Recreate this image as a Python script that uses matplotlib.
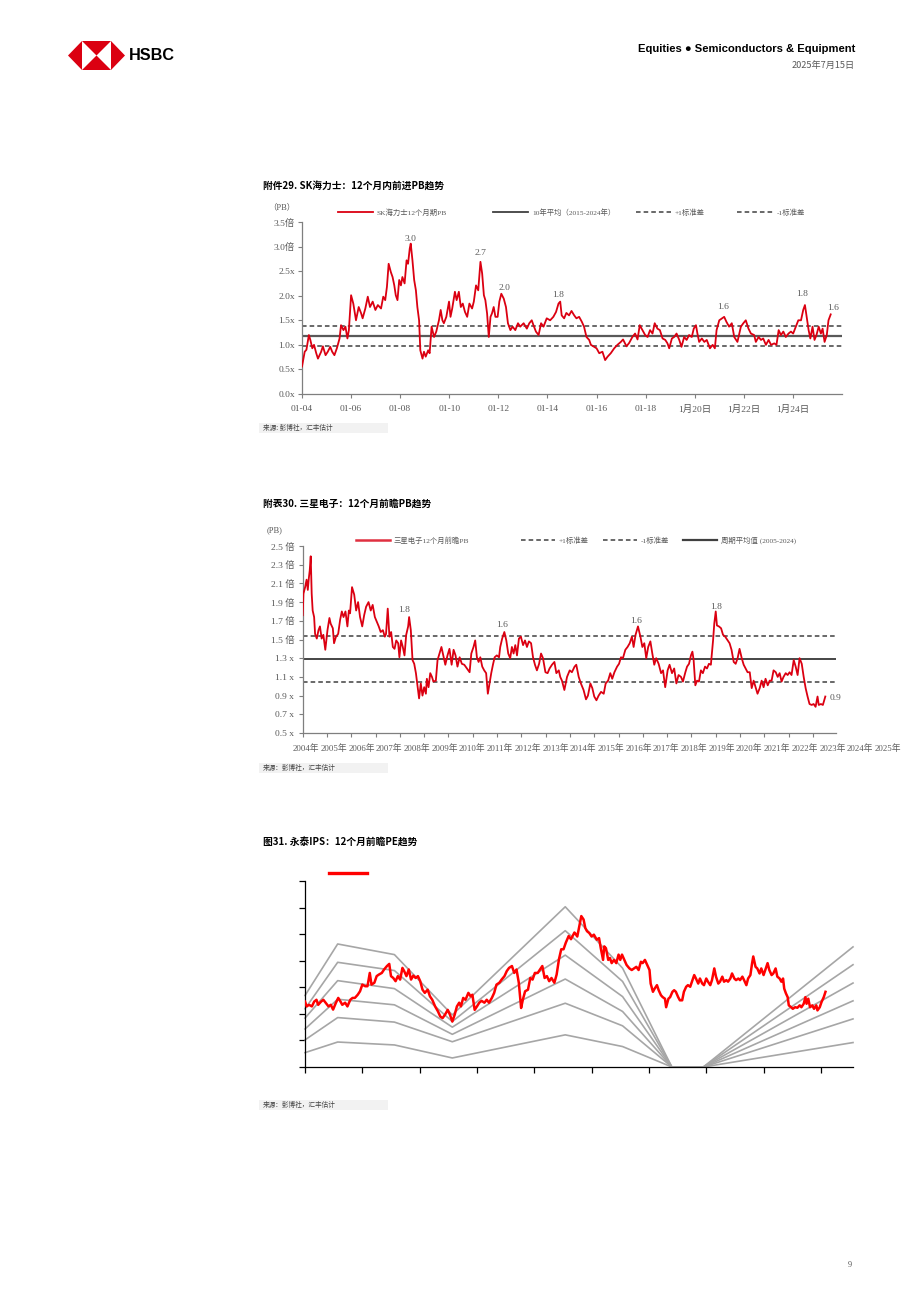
import matplotlib.pyplot as plt
from matplotlib.patches import Polygon, Rectangle
from matplotlib.lines import Line2D

# ---------------- data ----------------
# SK hynix 12m forward PB (decimal years)
sk_dates = [2004.00, 2004.11, 2004.18, 2004.28, 2004.34, 2004.42, 2004.49, 2004.58, 2004.65, 2004.78,
            2004.85, 2004.96, 2005.05, 2005.15, 2005.23, 2005.32, 2005.42, 2005.53, 2005.59, 2005.69,
            2005.77, 2005.85, 2005.91, 2006.00, 2006.09, 2006.20, 2006.31, 2006.41, 2006.47, 2006.58,
            2006.68, 2006.77, 2006.88, 2006.99, 2007.09, 2007.22, 2007.31, 2007.39, 2007.46, 2007.53,
            2007.62, 2007.69, 2007.76, 2007.82, 2007.89, 2007.96, 2008.03, 2008.09, 2008.18, 2008.26,
            2008.32, 2008.39, 2008.43, 2008.50, 2008.57, 2008.64, 2008.70, 2008.77, 2008.82, 2008.91,
            2008.97, 2009.04, 2009.14, 2009.20, 2009.28, 2009.38, 2009.47, 2009.58, 2009.65, 2009.72,
            2009.78, 2009.88, 2009.99, 2010.05, 2010.12, 2010.23, 2010.30, 2010.39, 2010.47, 2010.55,
            2010.64, 2010.73, 2010.82, 2010.93, 2011.00, 2011.09, 2011.18, 2011.27, 2011.34, 2011.41,
            2011.47, 2011.54, 2011.61, 2011.68, 2011.74, 2011.81, 2011.88, 2011.97, 2012.04, 2012.12,
            2012.22, 2012.31, 2012.39, 2012.49, 2012.58, 2012.69, 2012.80, 2012.89, 2013.03, 2013.16,
            2013.26, 2013.36, 2013.43, 2013.53, 2013.64, 2013.74, 2013.84, 2013.97, 2014.11, 2014.24,
            2014.35, 2014.45, 2014.52, 2014.58, 2014.68, 2014.77, 2014.88, 2014.98, 2015.09, 2015.18,
            2015.29, 2015.40, 2015.49, 2015.59, 2015.70, 2015.77, 2015.90, 2016.00, 2016.11, 2016.24,
            2016.35, 2016.45, 2016.58, 2016.72, 2016.85, 2016.99, 2017.08, 2017.22, 2017.33, 2017.46,
            2017.57, 2017.67, 2017.76, 2017.87, 2017.98, 2018.08, 2018.18, 2018.28, 2018.37, 2018.48,
            2018.58, 2018.69, 2018.80, 2018.89, 2018.96, 2019.07, 2019.16, 2019.26, 2019.37, 2019.46,
            2019.57, 2019.67, 2019.77, 2019.88, 2019.96, 2020.05, 2020.11, 2020.18, 2020.29, 2020.39,
            2020.49, 2020.62, 2020.73, 2020.82, 2020.89, 2021.00, 2021.11, 2021.20, 2021.29, 2021.40,
            2021.51, 2021.61, 2021.74, 2021.88, 2021.98, 2022.08, 2022.19, 2022.29, 2022.42, 2022.49,
            2022.60, 2022.70, 2022.79, 2022.90, 2023.01, 2023.11, 2023.24, 2023.33, 2023.42, 2023.51,
            2023.61, 2023.71, 2023.82, 2023.92, 2024.01, 2024.12, 2024.22, 2024.33, 2024.42, 2024.49,
            2024.56, 2024.64, 2024.71, 2024.80, 2024.88, 2024.96, 2025.05, 2025.14, 2025.21, 2025.29,
            2025.38, 2025.45, 2025.54]
sk_pb = [0.56, 0.86, 0.90, 1.20, 1.10, 0.93, 1.00, 0.83, 0.72, 0.86,
         0.97, 0.79, 0.86, 0.96, 0.86, 0.79, 0.93, 1.13, 1.40, 1.30,
         1.37, 1.13, 1.30, 2.01, 1.84, 1.50, 1.77, 1.64, 1.54, 1.74,
         1.98, 1.77, 1.88, 1.71, 1.81, 1.74, 1.98, 1.91, 2.18, 2.65,
         2.48, 2.38, 2.21, 2.01, 1.91, 2.32, 2.21, 2.38, 2.25, 2.72,
         2.65, 2.96, 3.06, 2.72, 2.32, 2.11, 1.77, 1.50, 0.89, 0.72,
         0.86, 0.76, 0.89, 0.83, 1.37, 1.16, 1.27, 1.50, 1.71, 1.50,
         1.44, 1.57, 1.88, 1.57, 1.74, 2.08, 1.91, 2.08, 1.77, 1.84,
         1.67, 1.57, 1.84, 1.74, 1.88, 2.21, 2.11, 2.69, 2.45, 2.01,
         1.91, 1.64, 1.16, 1.57, 1.64, 1.77, 1.57, 1.57, 1.88, 2.04,
         1.94, 1.77, 1.44, 1.30, 1.37, 1.30, 1.44, 1.37, 1.44, 1.33,
         1.44, 1.50, 1.40, 1.27, 1.20, 1.44, 1.37, 1.54, 1.50, 1.57,
         1.67, 1.84, 1.88, 1.60, 1.54, 1.65, 1.60, 1.69, 1.60, 1.54,
         1.57, 1.47, 1.37, 1.16, 1.10, 1.00, 0.96, 0.93, 0.83, 0.86,
         0.69, 0.76, 0.83, 0.93, 1.00, 1.06, 1.11, 0.97, 1.04, 1.16,
         1.23, 1.11, 1.40, 1.30, 1.20, 1.16, 1.30, 1.23, 1.44, 1.33,
         1.30, 1.13, 1.10, 1.03, 0.93, 1.13, 1.16, 1.23, 1.10, 0.96,
         1.16, 1.10, 1.20, 1.16, 1.33, 1.40, 1.23, 1.06, 1.13, 1.06,
         1.10, 0.93, 1.00, 0.93, 1.30, 1.50, 1.54, 1.57, 1.47, 1.37,
         1.44, 1.16, 1.06, 1.37, 1.44, 1.50, 1.33, 1.23, 1.20, 1.06,
         1.16, 1.10, 1.13, 1.00, 1.10, 1.00, 1.03, 1.00, 1.30, 1.20,
         1.27, 1.16, 1.23, 1.27, 1.23, 1.37, 1.50, 1.50, 1.71, 1.81,
         1.57, 1.30, 1.13, 1.37, 1.10, 1.20, 1.37, 1.23, 1.33, 1.06,
         1.20, 1.50, 1.62]
sk_mean, sk_plus, sk_minus = 1.18, 1.39, 0.97
sk_yticks = [0.0, 0.5, 1.0, 1.5, 2.0, 2.5, 3.0, 3.5]
sk_ylabels = ['0.0x', '0.5x', '1.0x', '1.5x', '2.0x', '2.5x', '3.0倍', '3.5倍']
sk_xticks = [2004, 2006, 2008, 2010, 2012, 2014, 2016, 2018, 2020, 2022, 2024]
sk_xlabels = ['01-04', '01-06', '01-08', '01-10', '01-12', '01-14', '01-16', '01-18',
              '1月20日', '1月22日', '1月24日']
sk_notes = ['3.0', '2.7', '2.0', '1.8', '1.6', '1.8', '1.6']
sk_note_x = [2008.40, 2011.29, 2012.23, 2014.43, 2021.15, 2024.37, 2025.63]
sk_note_y = [3.15, 2.87, 2.16, 2.01, 1.77, 2.03, 1.75]
sk_legend = ['SK海力士12个月期PB', '10年平均（2015-2024年）', '+1标准差', '-1标准差']

# Samsung Electronics 12m forward PB
sam_dates = [2004.00, 2004.03, 2004.10, 2004.16, 2004.21, 2004.25, 2004.29, 2004.33, 2004.37, 2004.41,
             2004.47, 2004.51, 2004.58, 2004.65, 2004.71, 2004.78, 2004.85, 2004.93, 2005.02, 2005.10,
             2005.15, 2005.24, 2005.29, 2005.37, 2005.46, 2005.54, 2005.61, 2005.68, 2005.76, 2005.84,
             2005.90, 2005.95, 2006.03, 2006.12, 2006.20, 2006.28, 2006.36, 2006.45, 2006.53, 2006.61,
             2006.71, 2006.80, 2006.88, 2006.97, 2007.05, 2007.13, 2007.21, 2007.30, 2007.38, 2007.43,
             2007.50, 2007.57, 2007.64, 2007.71, 2007.78, 2007.85, 2007.93, 2007.98, 2008.05, 2008.12,
             2008.19, 2008.26, 2008.34, 2008.38, 2008.45, 2008.52, 2008.59, 2008.66, 2008.73, 2008.79,
             2008.86, 2008.93, 2009.00, 2009.07, 2009.11, 2009.18, 2009.25, 2009.32, 2009.38, 2009.48,
             2009.55, 2009.63, 2009.71, 2009.80, 2009.87, 2009.96, 2010.04, 2010.13, 2010.21, 2010.29,
             2010.37, 2010.46, 2010.55, 2010.65, 2010.76, 2010.87, 2010.94, 2011.03, 2011.10, 2011.17,
             2011.24, 2011.31, 2011.39, 2011.47, 2011.55, 2011.62, 2011.69, 2011.76, 2011.83, 2011.90,
             2011.99, 2012.08, 2012.13, 2012.21, 2012.30, 2012.38, 2012.46, 2012.54, 2012.61, 2012.68,
             2012.75, 2012.82, 2012.90, 2012.98, 2013.07, 2013.15, 2013.23, 2013.31, 2013.40, 2013.48,
             2013.56, 2013.64, 2013.73, 2013.81, 2013.89, 2013.99, 2014.08, 2014.16, 2014.26, 2014.36,
             2014.44, 2014.54, 2014.60, 2014.67, 2014.77, 2014.88, 2014.99, 2015.08, 2015.19, 2015.26,
             2015.36, 2015.45, 2015.56, 2015.66, 2015.74, 2015.84, 2015.92, 2016.00, 2016.09, 2016.18,
             2016.28, 2016.39, 2016.47, 2016.57, 2016.66, 2016.74, 2016.83, 2016.94, 2017.02, 2017.10,
             2017.18, 2017.28, 2017.37, 2017.46, 2017.55, 2017.62, 2017.70, 2017.80, 2017.90, 2017.98,
             2018.06, 2018.14, 2018.22, 2018.31, 2018.39, 2018.47, 2018.55, 2018.65, 2018.75, 2018.83,
             2018.92, 2019.02, 2019.10, 2019.20, 2019.29, 2019.38, 2019.47, 2019.57, 2019.65, 2019.75,
             2019.82, 2019.90, 2019.98, 2020.04, 2020.09, 2020.16, 2020.23, 2020.31, 2020.39, 2020.47,
             2020.56, 2020.64, 2020.72, 2020.80, 2020.89, 2020.94, 2021.00, 2021.05, 2021.13, 2021.22,
             2021.30, 2021.39, 2021.49, 2021.57, 2021.65, 2021.74, 2021.82, 2021.90, 2021.98, 2022.07,
             2022.15, 2022.23, 2022.31, 2022.40, 2022.48, 2022.56, 2022.64, 2022.72, 2022.81, 2022.89,
             2022.97, 2023.05, 2023.14, 2023.22, 2023.30, 2023.38, 2023.47, 2023.55, 2023.63, 2023.71,
             2023.79, 2023.88, 2023.96, 2024.04, 2024.12, 2024.21, 2024.29, 2024.37, 2024.45, 2024.54,
             2024.62, 2024.70, 2024.78, 2024.86, 2024.95, 2025.03, 2025.11, 2025.19, 2025.24, 2025.33,
             2025.41, 2025.51]
sam_pb = [1.76, 1.99, 2.06, 2.14, 2.03, 2.15, 2.24, 2.39, 1.99, 1.81,
          1.74, 1.56, 1.51, 1.60, 1.64, 1.51, 1.55, 1.39, 1.60, 1.73,
          1.67, 1.62, 1.46, 1.53, 1.56, 1.71, 1.80, 1.74, 1.80, 1.64,
          1.81, 1.78, 2.06, 1.98, 1.81, 1.90, 1.74, 1.64, 1.76, 1.85,
          1.90, 1.81, 1.87, 1.74, 1.69, 1.64, 1.58, 1.60, 1.53, 1.56,
          1.83, 1.53, 1.58, 1.42, 1.40, 1.49, 1.46, 1.31, 1.49, 1.42,
          1.33, 1.55, 1.64, 1.74, 1.60, 1.28, 1.24, 1.14, 0.99, 0.87,
          1.03, 0.90, 0.99, 0.92, 1.08, 0.99, 1.14, 1.10, 1.05, 1.06,
          1.28, 1.35, 1.42, 1.31, 1.23, 1.33, 1.40, 1.23, 1.39, 1.33,
          1.21, 1.31, 1.24, 1.23, 1.19, 1.15, 1.35, 1.42, 1.49, 1.31,
          1.26, 1.31, 1.21, 1.17, 1.14, 0.92, 1.03, 1.14, 1.23, 1.31,
          1.33, 1.31, 1.42, 1.51, 1.58, 1.49, 1.35, 1.30, 1.42, 1.35,
          1.44, 1.33, 1.51, 1.53, 1.44, 1.49, 1.42, 1.48, 1.46, 1.31,
          1.23, 1.17, 1.24, 1.35, 1.30, 1.15, 1.14, 1.19, 1.23, 1.26,
          1.14, 1.17, 1.10, 1.06, 0.96, 1.10, 1.17, 1.15, 1.21, 1.23,
          1.10, 1.03, 0.96, 0.86, 0.90, 1.03, 0.98, 0.89, 0.85, 0.90,
          0.94, 0.92, 1.03, 1.06, 1.14, 1.08, 1.15, 1.21, 1.24, 1.31,
          1.30, 1.39, 1.42, 1.46, 1.53, 1.42, 1.55, 1.64, 1.53, 1.42,
          1.46, 1.30, 1.42, 1.48, 1.35, 1.23, 1.30, 1.24, 1.14, 1.17,
          0.99, 1.17, 1.23, 1.14, 1.19, 1.03, 1.12, 1.10, 1.05, 1.15,
          1.21, 1.24, 1.33, 1.37, 1.28, 1.01, 1.06, 1.05, 1.17, 1.14,
          1.21, 1.19, 1.24, 1.23, 1.49, 1.67, 1.80, 1.65, 1.64, 1.62,
          1.55, 1.53, 1.49, 1.46, 1.39, 1.26, 1.24, 1.30, 1.40, 1.30,
          1.23, 1.19, 1.15, 1.15, 0.98, 1.06, 0.99, 0.92, 0.98, 1.06,
          0.99, 1.08, 1.01, 1.06, 1.06, 1.17, 1.15, 1.10, 1.14, 1.05,
          1.10, 1.14, 1.12, 1.15, 1.12, 1.28, 1.21, 1.12, 1.30, 1.24,
          1.10, 0.98, 0.89, 0.81, 0.80, 0.81, 0.78, 0.89, 0.80, 0.81,
          0.80, 0.89]
sam_mean, sam_plus, sam_minus = 1.29, 1.535, 1.045
sam_yticks = [0.5, 0.7, 0.9, 1.1, 1.3, 1.5, 1.7, 1.9, 2.1, 2.3, 2.5]
sam_ylabels = ['0.5 x', '0.7 x', '0.9 x', '1.1 x', '1.3 x', '1.5 倍', '1.7 倍',
               '1.9 倍', '2.1 倍', '2.3 倍', '2.5 倍']
sam_xticks = list(range(2004, 2026))
sam_xlabels = [f'{y}年' for y in range(2004, 2026)]
sam_notes = ['1.8', '1.6', '1.6', '1.8', '0.9']
sam_note_x = [2008.17, 2012.20, 2017.72, 2021.01, 2025.95]
sam_note_y = [1.82, 1.66, 1.70, 1.85, 0.875]
sam_legend = ['三星电子12个月前瞻PB', '+1标准差', '-1标准差', '周期平均值 (2005-2024)']

# Wonik IPS 12m forward PE and PE bands
ips_dates = [2015.00, 2015.03, 2015.07, 2015.12, 2015.16, 2015.20, 2015.23, 2015.28, 2015.32, 2015.36,
             2015.41, 2015.45, 2015.49, 2015.54, 2015.58, 2015.62, 2015.65, 2015.70, 2015.74, 2015.79,
             2015.83, 2015.87, 2015.92, 2015.96, 2016.00, 2016.05, 2016.09, 2016.13, 2016.16, 2016.21,
             2016.25, 2016.29, 2016.34, 2016.38, 2016.43, 2016.47, 2016.50, 2016.54, 2016.58, 2016.62,
             2016.66, 2016.70, 2016.73, 2016.77, 2016.81, 2016.85, 2016.89, 2016.93, 2016.97, 2017.01,
             2017.05, 2017.09, 2017.14, 2017.18, 2017.22, 2017.27, 2017.32, 2017.36, 2017.40, 2017.44,
             2017.49, 2017.53, 2017.57, 2017.61, 2017.65, 2017.69, 2017.72, 2017.76, 2017.80, 2017.85,
             2017.89, 2017.92, 2017.96, 2018.00, 2018.04, 2018.08, 2018.13, 2018.17, 2018.21, 2018.26,
             2018.30, 2018.34, 2018.39, 2018.43, 2018.48, 2018.52, 2018.56, 2018.61, 2018.65, 2018.69,
             2018.73, 2018.77, 2018.80, 2018.84, 2018.89, 2018.93, 2018.97, 2019.01, 2019.06, 2019.10,
             2019.14, 2019.18, 2019.22, 2019.26, 2019.30, 2019.35, 2019.39, 2019.43, 2019.47, 2019.51,
             2019.55, 2019.60, 2019.64, 2019.70,
             2019.71, 2019.75, 2019.79, 2019.82, 2019.86, 2019.89, 2019.92, 2019.96, 2020.00, 2020.04,
             2020.09, 2020.13, 2020.16, 2020.20, 2020.22, 2020.25, 2020.29, 2020.32, 2020.35, 2020.39,
             2020.43, 2020.47, 2020.50, 2020.53, 2020.57, 2020.61, 2020.66, 2020.70, 2020.74, 2020.78,
             2020.82, 2020.86, 2020.89, 2020.93, 2020.97, 2021.01, 2021.03, 2021.07, 2021.10, 2021.14,
             2021.17, 2021.21, 2021.24, 2021.28, 2021.30, 2021.34, 2021.37, 2021.41, 2021.44, 2021.47,
             2021.51, 2021.54, 2021.58, 2021.61, 2021.65, 2021.68, 2021.72, 2021.75, 2021.79, 2021.82,
             2021.86, 2021.89, 2021.93, 2021.96, 2022.00, 2022.03, 2022.07, 2022.10, 2022.14, 2022.17,
             2022.21, 2022.24, 2022.28, 2022.31, 2022.35, 2022.38, 2022.42, 2022.45, 2022.49, 2022.52,
             2022.56, 2022.59, 2022.63, 2022.66, 2022.70, 2022.73, 2022.77, 2022.80, 2022.82, 2022.86,
             2022.89, 2022.93, 2022.96, 2023.00, 2023.03, 2023.07, 2023.10, 2023.14, 2023.17, 2023.21,
             2023.24, 2023.28, 2023.31, 2023.34, 2023.36, 2023.39, 2023.42, 2023.44, 2023.48, 2023.51,
             2023.55, 2023.59, 2023.63, 2023.66, 2023.70, 2023.73, 2023.75, 2023.78, 2023.81, 2023.85,
             2023.88, 2023.92, 2023.94, 2023.98, 2024.01, 2024.05, 2024.08]
ips_pe = [24.6, 22.8, 23.4, 22.8, 24.6, 25.3, 23.4, 24.6, 25.3, 24.2,
          22.8, 23.4, 21.6, 24.2, 26.0, 24.6, 23.4, 24.2, 22.8, 25.3,
          26.0, 26.0, 27.2, 28.5, 31.0, 30.4, 30.4, 35.4, 31.0, 31.7,
          34.2, 34.8, 35.4, 36.7, 38.0, 38.8, 34.2, 33.5, 32.3, 34.2,
          32.9, 37.3, 36.1, 34.2, 36.7, 32.9, 34.4, 33.5, 34.2, 32.3,
          29.1, 27.9, 29.1, 26.6, 25.3, 22.8, 20.9, 19.0, 18.4, 19.6,
          21.5, 19.6, 17.1, 19.6, 22.8, 24.2, 22.8, 26.0, 25.3, 27.9,
          26.6, 27.2, 21.5, 22.8, 24.2, 24.9, 24.2, 25.3, 24.2, 26.0,
          27.9, 31.0, 31.7, 32.9, 34.2, 36.1, 37.3, 38.0, 35.4, 36.7,
          31.7, 22.2, 25.3, 28.5, 29.1, 33.5, 32.9, 35.4, 35.4, 36.7,
          38.0, 33.5, 34.2, 32.3, 33.5, 31.7, 34.8, 40.5, 44.3, 44.3,
          46.8, 49.3, 48.1, 50.6,
          50.4, 49.1, 53.6, 56.8, 55.5, 52.3, 51.1, 50.4, 49.1, 49.8,
          47.9, 48.5, 44.7, 40.3, 45.4, 44.7, 40.3, 41.0, 39.1, 40.3,
          39.1, 42.3, 40.3, 42.3, 40.3, 38.4, 37.1, 36.5, 37.1, 37.7,
          36.5, 39.6, 39.1, 40.3, 38.4, 36.5, 31.4, 28.3, 29.5, 30.8,
          28.9, 27.0, 26.3, 25.7, 22.5, 25.7, 26.3, 28.3, 28.9, 28.3,
          26.3, 25.1, 25.1, 28.3, 30.2, 30.8, 30.2, 32.1, 34.6, 33.3,
          31.4, 33.3, 31.4, 30.8, 33.3, 32.1, 30.8, 32.7, 37.1, 34.0,
          31.4, 32.1, 34.0, 32.1, 32.7, 32.1, 33.3, 35.2, 33.3, 32.7,
          33.3, 32.7, 34.0, 32.7, 30.8, 33.3, 34.6, 39.1, 41.6, 37.7,
          37.1, 35.2, 37.1, 34.6, 36.5, 39.1, 36.5, 34.6, 35.2, 37.1,
          34.0, 33.3, 32.1, 33.3, 29.5, 27.7, 26.3, 23.2, 22.5, 21.9,
          22.5, 22.3, 23.2, 22.5, 23.8, 26.3, 23.8, 25.7, 22.5, 23.2,
          21.9, 23.2, 21.3, 22.5, 24.4, 26.3, 28.3]
band_dates = [2015.00, 2015.57, 2016.56, 2017.57, 2019.54, 2020.54, 2021.40, 2021.95, 2024.56]
band_1 = [26.9, 46.3, 42.3, 19.6, 60.3, 37.2, 0, 0, 45.2]
band_2 = [21.9, 39.4, 36.3, 17.1, 51.3, 32.2, 0, 0, 38.5]
band_3 = [18.4, 32.5, 29.5, 15.0, 42.1, 26.5, 0, 0, 31.6]
band_4 = [14.3, 25.5, 23.4, 12.3, 33.1, 20.9, 0, 0, 24.9]
band_5 = [10.2, 18.6, 16.9, 9.5, 24.0, 15.5, 0, 0, 18.1]
band_6 = [5.4, 9.4, 8.3, 3.4, 12.1, 7.7, 0, 0, 9.2]

titles = ['附件29. SK海力士：12个月内前进PB趋势',
          '附表30. 三星电子：12个月前瞻PB趋势',
          '图31. 永泰IPS：12个月前瞻PE趋势']
source_texts = ['来源: 彭博社，汇丰估计', '来源：彭博社，汇丰估计', '来源：彭博社，汇丰估计']

# ---------------- styling ----------------
W, H = 920, 1302
CJK = 'Noto Sans CJK SC'
SERIF = ['Liberation Serif', 'Noto Sans CJK SC']
RED = '#DB0011'
TXT = '#595959'
DARK = '#404040'
plt.rcParams['font.family'] = [CJK, 'DejaVu Sans']


def box(l, t, r, b):
    return [l / W, 1 - b / H, (r - l) / W, (b - t) / H]


fig = plt.figure(figsize=(W / 100, H / 100), dpi=100)

# page overlay in pixel coordinates (header, titles, legends, sources)
pg = fig.add_axes([0, 0, 1, 1])
pg.set_xlim(0, W)
pg.set_ylim(H, 0)
pg.axis('off')

# HSBC logo
for tri in [[(68, 55.5), (82, 41), (82, 70)], [(125, 55.5), (111, 41), (111, 70)],
            [(82, 41), (111, 41), (96.5, 55.5)], [(82, 70), (111, 70), (96.5, 55.5)]]:
    pg.add_patch(Polygon(tri, closed=True, color='#DB0011', lw=0))
pg.text(129, 56, 'HSBC', fontsize=11.7, fontweight='bold', va='center', ha='left',
        family=['Liberation Sans', 'DejaVu Sans'], color='black')
pg.text(855, 48.5, 'Equities ● Semiconductors & Equipment', fontsize=8.1, fontweight='bold',
        ha='right', va='center', family=['Liberation Sans', 'DejaVu Sans'])
pg.text(855, 65, '2025年7月15日', fontsize=6.6, ha='right', va='center', color=TXT)
pg.text(850, 1265, '9', fontsize=6, ha='center', va='center', color=TXT, family=SERIF)

for t, ty in zip(titles, [186, 504, 843]):
    pg.text(263, ty, t, fontsize=7.0, fontweight='bold', ha='left', va='center')

for s, sy in zip(source_texts, [428, 768, 1105]):
    pg.add_patch(Rectangle((259, sy - 5), 129, 10, color='#F2F2F2', lw=0))
    pg.text(263, sy, s, fontsize=4.8, ha='left', va='center', color=DARK)

pg.text(268, 207, '（PB）', fontsize=6, ha='left', va='center', color=TXT, family=SERIF)
pg.text(267, 530, '(PB)', fontsize=6, ha='left', va='center', color=TXT, family=SERIF)


def legend_item(x0, x1, y, text, **line_kw):
    pg.add_line(Line2D([x0, x1], [y, y], **line_kw))
    pg.text(x1 + 4, y, text, fontsize=5.3, ha='left', va='center', color=TXT, family=SERIF)


legend_item(338, 373, 212, sk_legend[0], color=RED, lw=1.3)
legend_item(493, 528, 212, sk_legend[1], color=DARK, lw=1.3)
legend_item(636, 671, 212, sk_legend[2], color=DARK, lw=1.1, ls=(0, (3, 2)))
legend_item(737, 773, 212, sk_legend[3], color=DARK, lw=1.1, ls=(0, (3, 2)))

legend_item(356, 390, 540, sam_legend[0], color='#E03040', lw=1.8)
legend_item(521, 555, 540, sam_legend[1], color=DARK, lw=1.1, ls=(0, (3, 2)))
legend_item(603, 637, 540, sam_legend[2], color=DARK, lw=1.1, ls=(0, (3, 2)))
legend_item(683, 717, 540, sam_legend[3], color=DARK, lw=1.6)

pg.add_line(Line2D([329, 367], [873, 873], color='#FF0000', lw=2.4))


def style_axes(ax, spine_color):
    ax.set_facecolor('none')
    for side in ['top', 'right']:
        ax.spines[side].set_visible(False)
    for side in ['left', 'bottom']:
        ax.spines[side].set_color(spine_color)
        ax.spines[side].set_linewidth(0.9)
    ax.tick_params(direction='out', length=3, width=0.8, colors=spine_color,
                   labelcolor=TXT, labelsize=6.8)


# ---------------- chart 1: SK hynix ----------------
ax1 = fig.add_axes(box(302, 222, 842, 394))
style_axes(ax1, '#7F7F7F')
ax1.plot(sk_dates, sk_pb, color=RED, lw=1.3, zorder=3)
ax1.axhline(sk_mean, color='#595959', lw=1.6, zorder=2)
ax1.axhline(sk_plus, color=DARK, lw=1.1, ls=(0, (3, 2)), zorder=2)
ax1.axhline(sk_minus, color=DARK, lw=1.1, ls=(0, (3, 2)), zorder=2)
ax1.set_xlim(2004, 2026)
ax1.set_ylim(0, 3.5)
ax1.set_yticks(sk_yticks, sk_ylabels, family=SERIF)
ax1.set_xticks(sk_xticks, sk_xlabels, family=SERIF)
ax1.tick_params(axis='y', pad=2)
ax1.tick_params(axis='x', pad=5)
for lab, x, y in zip(sk_notes, sk_note_x, sk_note_y):
    ax1.text(x, y, lab, ha='center', va='center', fontsize=6.8, color=TXT, family=SERIF)

# ---------------- chart 2: Samsung ----------------
ax2 = fig.add_axes(box(302.7, 546, 836, 733))
style_axes(ax2, '#7F7F7F')
ax2.plot(sam_dates, sam_pb, color=RED, lw=1.3, zorder=3)
ax2.axhline(sam_mean, color='#262626', lw=1.2, zorder=2)
ax2.axhline(sam_plus, color=DARK, lw=1.1, ls=(0, (3, 2)), zorder=2)
ax2.axhline(sam_minus, color=DARK, lw=1.1, ls=(0, (3, 2)), zorder=2)
ax2.set_xlim(2004, 2025.95)
ax2.set_ylim(0.5, 2.5)
ax2.set_yticks(sam_yticks, sam_ylabels, family=SERIF)
ax2.tick_params(axis='y', pad=3)
ax2.set_xticks(sam_xticks)
ax2.set_xticklabels([])
# year labels in the original run wider than the tick spacing
for i, lab in enumerate(sam_xlabels):
    ax2.annotate(lab, xy=(2004.14 + 1.14 * i, 0), xycoords=('data', 'axes fraction'),
                 xytext=(0, -11), textcoords='offset points', ha='center', va='center',
                 fontsize=6.3, color=TXT, family=SERIF, annotation_clip=False)
for lab, x, y in zip(sam_notes, sam_note_x, sam_note_y):
    ax2.text(x, y, lab, ha='center', va='center', fontsize=6.8, color=TXT, family=SERIF)

# ---------------- chart 3: Wonik IPS ----------------
ax3 = fig.add_axes(box(305, 881, 853, 1067))
style_axes(ax3, 'black')
for band in [band_1, band_2, band_3, band_4, band_5, band_6]:
    ax3.plot(band_dates, band, color='#A6A6A6', lw=1.2, zorder=2, clip_on=False)
ax3.plot(ips_dates, ips_pe, color='#FF0000', lw=1.8, zorder=3)
ax3.set_xlim(2015, 2024.56)
ax3.set_ylim(0, 70)
ax3.set_xticks(range(2015, 2025))
ax3.set_yticks(range(0, 71, 10))
ax3.set_xticklabels([])
ax3.set_yticklabels([])
ax3.tick_params(length=4, width=0.9)

fig.savefig('out.png', dpi=100)
